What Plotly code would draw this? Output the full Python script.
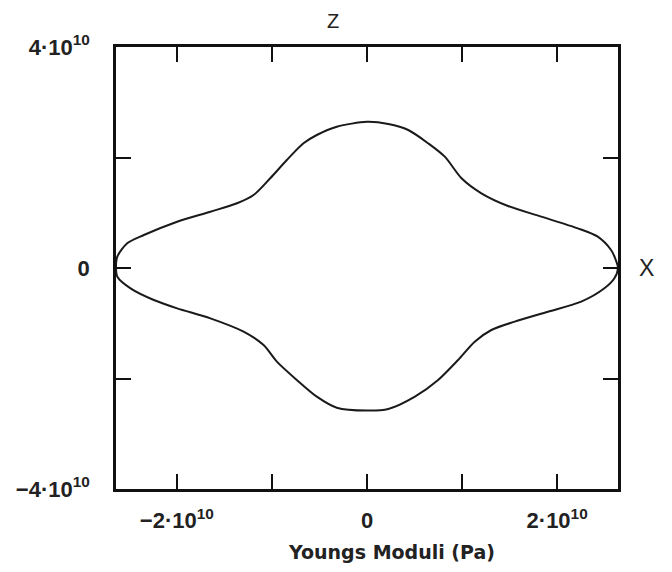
import plotly.graph_objects as go

# Curve of Young's moduli (Pa), traced around the closed outline
x_vals = [2.64e10, 2.61e10, 2.567e10, 2.427e10, 2.217e10, 1.833e10, 1.483e10, 1.203e10,
          0.994e10, 0.818e10, 0.643e10, 0.434e10, 0.224e10, 0.0,
          -0.318e10, -0.528e10, -0.668e10, -0.843e10, -1.018e10, -1.193e10, -1.367e10,
          -1.647e10, -1.997e10, -2.347e10, -2.522e10, -2.626e10, -2.64e10,
          -2.626e10, -2.487e10, -2.242e10, -1.997e10, -1.647e10, -1.298e10, -1.088e10,
          -0.948e10, -0.738e10, -0.528e10, -0.318e10, 0.0,
          0.224e10, 0.504e10, 0.748e10, 0.958e10, 1.133e10, 1.308e10, 1.553e10,
          1.903e10, 2.253e10, 2.497e10, 2.602e10, 2.64e10]
y_vals = [0.0, 0.176e10, 0.326e10, 0.567e10, 0.718e10, 0.929e10, 1.122e10, 1.352e10,
          1.624e10, 2.015e10, 2.257e10, 2.498e10, 2.606e10, 2.645e10,
          2.557e10, 2.407e10, 2.257e10, 1.955e10, 1.624e10, 1.321e10, 1.171e10,
          1.019e10, 0.838e10, 0.597e10, 0.447e10, 0.205e10, 0.0,
          -0.157e10, -0.368e10, -0.579e10, -0.730e10, -0.911e10, -1.152e10, -1.394e10,
          -1.695e10, -2.027e10, -2.329e10, -2.528e10, -2.58e10,
          -2.552e10, -2.329e10, -2.027e10, -1.665e10, -1.334e10, -1.122e10, -0.971e10,
          -0.791e10, -0.610e10, -0.368e10, -0.186e10, 0.0]

x_tickvals = [-2e10, 0, 2e10]
x_ticktext = ["\u22122\u00b710<sup>10</sup>", "0", "2\u00b710<sup>10</sup>"]
x_minor_vals = [-1e10, 1e10]
y_tickvals = [-4e10, 0, 4e10]
y_ticktext = ["\u22124\u00b710<sup>10</sup>", "0", "4\u00b710<sup>10</sup>"]
y_minor_vals = [-2e10, 2e10]

x_range = [-2.64e10, 2.64e10]
y_range = [-4e10, 4e10]

fig = go.Figure()
fig.add_trace(go.Scatter(
    x=x_vals, y=y_vals, mode="lines",
    line=dict(color="#1a1a1a", width=2, shape="spline", smoothing=0.8),
    showlegend=False, hoverinfo="skip"))

tick_font = dict(family="Liberation Sans, Arial, sans-serif", size=22,
                 color="#222", weight="bold")

axis_common = dict(
    showline=True, linecolor="#111", linewidth=2.5, mirror="ticks",
    ticks="inside", ticklen=15, tickwidth=1.8, tickcolor="#111",
    showgrid=False, zeroline=False, tickfont=tick_font,
)

fig.update_xaxes(range=x_range, tickmode="array", tickvals=x_tickvals,
                 ticktext=x_ticktext, ticklabelstandoff=10,
                 minor=dict(tickmode="array", tickvals=x_minor_vals, ticks="inside",
                            ticklen=15, tickwidth=1.8, tickcolor="#111", showgrid=False),
                 **axis_common)
fig.update_yaxes(range=y_range, tickmode="array", tickvals=y_tickvals,
                 ticktext=y_ticktext, ticklabelstandoff=19,
                 minor=dict(tickmode="array", tickvals=y_minor_vals, ticks="inside",
                            ticklen=15, tickwidth=1.8, tickcolor="#111", showgrid=False),
                 **axis_common)

fig.add_annotation(text="Youngs Moduli (Pa)", xref="paper", yref="paper",
                   x=0.548, y=0, yshift=-63, showarrow=False,
                   xanchor="center", yanchor="middle",
                   font=dict(family="DejaVu Sans, Verdana, sans-serif", size=19,
                             color="#222", weight="bold"))
fig.add_annotation(text="Z", xref="paper", yref="paper",
                   x=0.432, y=1, yshift=26, showarrow=False,
                   xanchor="center", yanchor="middle",
                   font=dict(family="Liberation Sans, Arial, sans-serif", size=20, color="#222"))
fig.add_annotation(text="X", xref="paper", yref="paper",
                   x=1, xshift=28, y=0.5, showarrow=False,
                   xanchor="center", yanchor="middle",
                   font=dict(family="Liberation Sans, Arial, sans-serif", size=23, color="#222"))

fig.update_layout(
    width=672, height=572,
    margin=dict(l=116, r=54, t=47, b=83),
    paper_bgcolor="white", plot_bgcolor="white",
)

fig.write_html("out.html")
